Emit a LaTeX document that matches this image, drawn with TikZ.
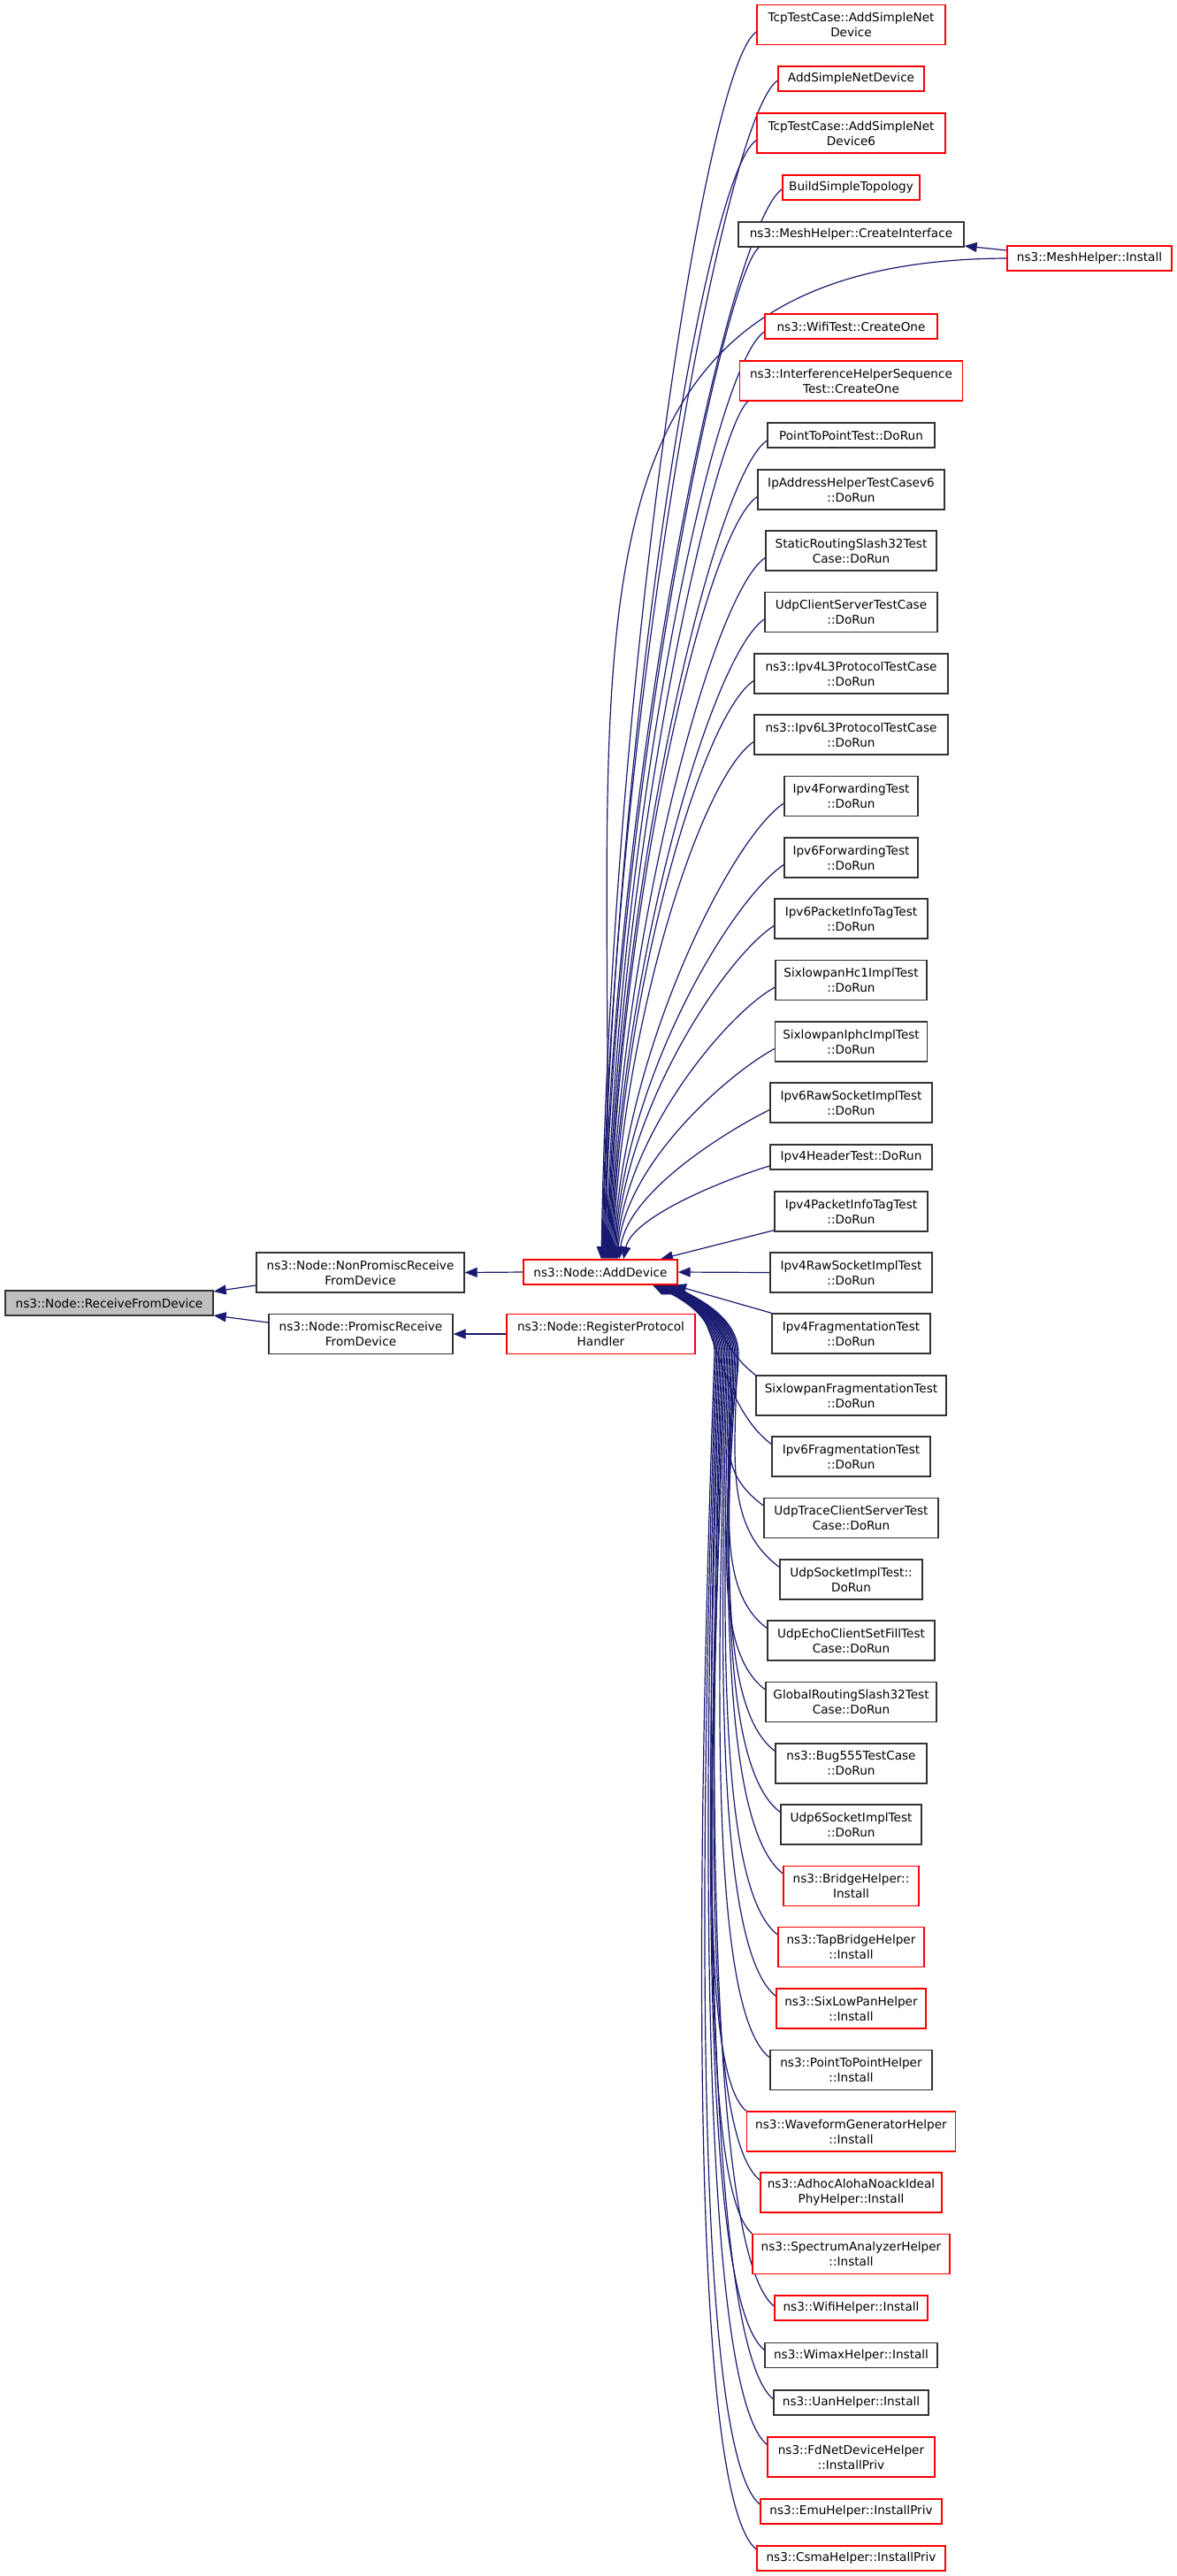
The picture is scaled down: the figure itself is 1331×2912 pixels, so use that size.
\documentclass[tikz,border=0pt]{standalone}
\usepackage{fontspec}
\setmainfont{DejaVu Sans}
\usetikzlibrary{arrows.meta,backgrounds}
\definecolor{edgeblue}{HTML}{191970}
\definecolor{callgray}{HTML}{BFBFBF}

\begin{document}
\begin{tikzpicture}[x=0.5pt, y=-0.5pt,
		box/.style={draw=black!80, fill=white, line width=0.7pt, inner sep=0pt, align=center, font=\fontsize{6.8pt}{8.5pt}\selectfont},
		redbox/.style={box, draw=red},
		one/.style={minimum height=14pt},
		two/.style={minimum height=22.5pt},
		bw/.style={minimum width=#1*0.5pt},
		calls/.style={draw=edgeblue, line width=0.6pt, -{Triangle[length=7pt,width=5.5pt]}}]
		\useasboundingbox (0,0) rectangle (1331,2912);
		
		\node[box, fill=callgray, one, bw=235] (rf) at (123.5,1473) {ns3::Node::ReceiveFromDevice};
		\node[box, two, bw=235] (np) at (407.5,1438.5) {ns3::Node::NonPromiscReceive\\FromDevice};
		\node[box, two, bw=208] (pr) at (408,1508) {ns3::Node::PromiscReceive\\FromDevice};
		\node[redbox, one, bw=174] (ad) at (679,1438) {ns3::Node::AddDevice};
		\node[redbox, two, bw=213] (rh) at (679.5,1508) {ns3::Node::RegisterProtocol\\Handler};
		
		\node[redbox, two, bw=213] (t1) at (962.5,28) {TcpTestCase::AddSimpleNet\\Device};
		\node[redbox, one, bw=165] (t2) at (962.5,89) {AddSimpleNetDevice};
		\node[redbox, two, bw=213] (t3) at (962.5,150.5) {TcpTestCase::AddSimpleNet\\Device6};
		\node[redbox, one, bw=155] (t4) at (962.5,212) {BuildSimpleTopology};
		\node[box, one, bw=255] (ci) at (962.5,265) {ns3::MeshHelper::CreateInterface};
		\node[redbox, one, bw=186] (mi) at (1232,292) {ns3::MeshHelper::Install};
		\node[redbox, one, bw=195] (w1) at (962.5,369) {ns3::WifiTest::CreateOne};
		\node[redbox, two, bw=252] (if) at (962.5,430.5) {ns3::InterferenceHelperSequence\\Test::CreateOne};
		\node[box, one, bw=189] (pp) at (962.5,492) {PointToPointTest::DoRun};
		\node[box, two, bw=211] (ia) at (962.5,553.5) {IpAddressHelperTestCasev6\\::DoRun};
		\node[box, two, bw=193] (sr) at (962.5,622.5) {StaticRoutingSlash32Test\\Case::DoRun};
		\node[box, two, bw=195] (uc) at (962.5,692) {UdpClientServerTestCase\\::DoRun};
		\node[box, two, bw=219] (l4) at (962.5,761.5) {ns3::Ipv4L3ProtocolTestCase\\::DoRun};
		\node[box, two, bw=219] (l6) at (962.5,830.5) {ns3::Ipv6L3ProtocolTestCase\\::DoRun};
		\node[box, two, bw=151] (f4) at (962.5,900) {Ipv4ForwardingTest\\::DoRun};
		\node[box, two, bw=151] (f6) at (962.5,969.5) {Ipv6ForwardingTest\\::DoRun};
		\node[box, two, bw=173] (p6) at (962.5,1038.5) {Ipv6PacketInfoTagTest\\::DoRun};
		\node[box, two, bw=171] (hc) at (962.5,1108) {SixlowpanHc1ImplTest\\::DoRun};
		\node[box, two, bw=172] (ip) at (962.5,1177.5) {SixlowpanIphcImplTest\\::DoRun};
		\node[box, two, bw=183] (r6) at (962.5,1246.5) {Ipv6RawSocketImplTest\\::DoRun};
		\node[box, one, bw=183] (hd) at (962.5,1308) {Ipv4HeaderTest::DoRun};
		\node[box, two, bw=173] (p4) at (962.5,1369.5) {Ipv4PacketInfoTagTest\\::DoRun};
		\node[box, two, bw=183] (r4) at (962.5,1438.5) {Ipv4RawSocketImplTest\\::DoRun};
		\node[box, two, bw=179] (g4) at (962.5,1507.5) {Ipv4FragmentationTest\\::DoRun};
		\node[box, two, bw=215] (sf) at (962.5,1577.5) {SixlowpanFragmentationTest\\::DoRun};
		\node[box, two, bw=179] (g6) at (962.5,1646.5) {Ipv6FragmentationTest\\::DoRun};
		\node[box, two, bw=197] (ut) at (962.5,1716) {UdpTraceClientServerTest\\Case::DoRun};
		\node[box, two, bw=161] (us) at (962.5,1785.5) {UdpSocketImplTest::\\DoRun};
		\node[box, two, bw=189] (ue) at (962.5,1854.5) {UdpEchoClientSetFillTest\\Case::DoRun};
		\node[box, two, bw=193] (gr) at (962.5,1924) {GlobalRoutingSlash32Test\\Case::DoRun};
		\node[box, two, bw=171] (bg) at (962.5,1993.5) {ns3::Bug555TestCase\\::DoRun};
		\node[box, two, bw=159] (u6) at (962.5,2062.5) {Udp6SocketImplTest\\::DoRun};
		\node[redbox, two, bw=153] (bh) at (962.5,2132) {ns3::BridgeHelper::\\Install};
		\node[redbox, two, bw=165] (tb) at (962.5,2201) {ns3::TapBridgeHelper\\::Install};
		\node[redbox, two, bw=169] (sl) at (962.5,2270.5) {ns3::SixLowPanHelper\\::Install};
		\node[box, two, bw=183] (ph) at (962.5,2340) {ns3::PointToPointHelper\\::Install};
		\node[redbox, two, bw=236] (wg) at (962.5,2409.5) {ns3::WaveformGeneratorHelper\\::Install};
		\node[redbox, two, bw=205] (aa) at (962.5,2478.5) {ns3::AdhocAlohaNoackIdeal\\PhyHelper::Install};
		\node[redbox, two, bw=223] (sa) at (962.5,2548) {ns3::SpectrumAnalyzerHelper\\::Install};
		\node[redbox, one, bw=173] (wh) at (962.5,2609) {ns3::WifiHelper::Install};
		\node[box, one, bw=195] (wm) at (962.5,2662.5) {ns3::WimaxHelper::Install};
		\node[box, one, bw=175] (uh) at (962.5,2716) {ns3::UanHelper::Install};
		\node[redbox, two, bw=189] (fd) at (962.5,2777.5) {ns3::FdNetDeviceHelper\\::InstallPriv};
		\node[redbox, one, bw=205] (em) at (962.5,2839) {ns3::EmuHelper::InstallPriv};
		\node[redbox, one, bw=213] (cs) at (962.5,2892) {ns3::CsmaHelper::InstallPriv};
		
		\begin{pgfonlayer}{background}
		\fill[white] (0,0) rectangle (1331,2912);
		
		\draw[calls] (ad.west) -- (np.east);
		\draw[calls] ([yshift=-7.25pt]np.west) -- ([yshift=6.5pt]rf.east);
		\draw[calls] ([yshift=6.5pt]pr.west) -- ([yshift=-7pt]rf.east);
		\draw[calls] (rh.west) -- (pr.east);
		\draw[calls] ([yshift=4.5pt]mi.west) -- ([yshift=-6.5pt]ci.east);
		
		\draw[calls] ([yshift=-4pt]t1.west) .. controls +(-60,40) and +(10,-625) .. ([xshift=0.5pt]ad.north);
		\draw[calls] ([yshift=-1pt]t2.west) .. controls +(-60,40) and +(10,-600) .. ([xshift=1pt]ad.north);
		\draw[calls] ([yshift=-4pt]t3.west) .. controls +(-60,40) and +(10,-570) .. ([xshift=1.5pt]ad.north);
		\draw[calls] ([yshift=-1pt]t4.west) .. controls +(-60,40) and +(10,-545) .. ([xshift=2pt]ad.north);
		\draw[calls] ([xshift=12pt]ci.south west) .. controls +(-40,30) and +(10,-515) .. ([xshift=2.5pt]ad.north);
		\draw[calls] (mi.west) .. controls +(-540,3) and +(15,-674) .. ([xshift=3pt]ad.north);
		\draw[calls] ([yshift=-3pt]w1.west) .. controls +(-60,40) and +(10,-470) .. ([xshift=3.5pt]ad.north);
		\draw[calls] ([xshift=5pt]if.south west) .. controls +(-40,35) and +(10,-437) .. ([xshift=4pt]ad.north);
		\draw[calls] ([yshift=-3pt]pp.west) .. controls +(-60,40) and +(10,-417) .. ([xshift=4.5pt]ad.north);
		\draw[calls] ([yshift=-4pt]ia.west) .. controls +(-60,40) and +(10,-388) .. ([xshift=5pt]ad.north);
		\draw[calls] ([yshift=-4pt]sr.west) .. controls +(-60,40) and +(10,-357) .. ([xshift=5.5pt]ad.north);
		\draw[calls] ([yshift=-4pt]uc.west) .. controls +(-60,40) and +(10,-326) .. ([xshift=6pt]ad.north);
		\draw[calls] ([yshift=-4pt]l4.west) .. controls +(-60,40) and +(10,-295) .. ([xshift=6.5pt]ad.north);
		\draw[calls] ([yshift=-4pt]l6.west) .. controls +(-60,40) and +(10,-263) .. ([xshift=7pt]ad.north);
		\draw[calls] ([yshift=-4pt]f4.west) .. controls +(-60,40) and +(10,-232) .. ([xshift=7.5pt]ad.north);
		\draw[calls] ([yshift=-4pt]f6.west) .. controls +(-60,40) and +(10,-201) .. ([xshift=8pt]ad.north);
		\draw[calls] ([yshift=-4pt]p6.west) .. controls +(-55,35) and +(10,-170) .. ([xshift=8.5pt]ad.north);
		\draw[calls] ([yshift=-4pt]hc.west) .. controls +(-55,30) and +(10,-139) .. ([xshift=9pt]ad.north);
		\draw[calls] ([yshift=-4pt]ip.west) .. controls +(-55,30) and +(10,-107) .. ([xshift=9.5pt]ad.north);
		\draw[calls] ([yshift=-4pt]r6.west) .. controls +(-50,25) and +(10,-76) .. ([xshift=10.5pt]ad.north);
		\draw[calls] ([yshift=-5pt]hd.west) .. controls +(-50,15) and +(10,-48) .. ([xshift=13pt]ad.north);
		\draw[calls] ([yshift=1pt]p4.south west) -- ([xshift=34pt]ad.north);
		\draw[calls] (r4.west) -- (ad.east);
		
		\draw[calls] (g4.north west) -- ([xshift=41.5pt]ad.south);
		\draw[calls] (sf.north west) .. controls +(-40,-30) and +(50,25) .. ([xshift=40.5pt]ad.south);
		\draw[calls] ([yshift=7pt]g6.west) .. controls +(-60,-45) and +(50,25) .. ([xshift=40pt]ad.south);
		\draw[calls] ([yshift=7pt]ut.west) .. controls +(-65,-48) and +(0,77) .. (835,1530) .. controls +(0,-30) and +(52,24) .. ([xshift=39.4pt]ad.south);
		\draw[calls] ([yshift=7pt]us.west) .. controls +(-65,-48) and +(-1,109) .. (833.5,1530) .. controls +(0,-30) and +(52,24) .. ([xshift=38.9pt]ad.south);
		\draw[calls] ([yshift=7pt]ue.west) .. controls +(-65,-48) and +(-2,140) .. (832,1530) .. controls +(0,-30) and +(52,24) .. ([xshift=38.3pt]ad.south);
		\draw[calls] ([yshift=7pt]gr.west) .. controls +(-66,-50) and +(-4,171) .. (830.5,1530) .. controls +(0,-30) and +(52,24) .. ([xshift=37.8pt]ad.south);
		\draw[calls] ([yshift=7pt]bg.west) .. controls +(-66,-50) and +(-5,202) .. (829,1530) .. controls +(0,-30) and +(52,24) .. ([xshift=37.2pt]ad.south);
		\draw[calls] ([yshift=7pt]u6.west) .. controls +(-67,-50) and +(-6,233) .. (827.5,1530) .. controls +(0,-30) and +(52,24) .. ([xshift=36.7pt]ad.south);
		\draw[calls] ([yshift=7pt]bh.west) .. controls +(-67,-52) and +(-7,265) .. (826,1530) .. controls +(0,-30) and +(52,24) .. ([xshift=36.1pt]ad.south);
		\draw[calls] ([yshift=7pt]tb.west) .. controls +(-68,-52) and +(-8,296) .. (824.5,1530) .. controls +(0,-30) and +(52,24) .. ([xshift=35.6pt]ad.south);
		\draw[calls] ([yshift=7pt]sl.west) .. controls +(-68,-54) and +(-10,327) .. (823,1530) .. controls +(0,-30) and +(52,24) .. ([xshift=35pt]ad.south);
		\draw[calls] ([yshift=7pt]ph.west) .. controls +(-69,-54) and +(-11,358) .. (821.5,1530) .. controls +(0,-30) and +(52,24) .. ([xshift=34.5pt]ad.south);
		\draw[calls] (wg.north west) .. controls +(-60,-50) and +(-12,386) .. (820,1530) .. controls +(0,-30) and +(52,24) .. ([xshift=33.9pt]ad.south);
		\draw[calls] ([yshift=7pt]aa.west) .. controls +(-70,-56) and +(-13,421) .. (818.5,1530) .. controls +(0,-30) and +(52,24) .. ([xshift=33.4pt]ad.south);
		\draw[calls] (sa.north west) .. controls +(-62,-52) and +(-14,448) .. (817,1530) .. controls +(0,-30) and +(52,24) .. ([xshift=32.8pt]ad.south);
		\draw[calls] ([yshift=1pt]wh.west) .. controls +(-72,-58) and +(-16,485) .. (815.5,1530) .. controls +(0,-30) and +(52,24) .. ([xshift=32.3pt]ad.south);
		\draw[calls] ([yshift=3pt]wm.west) .. controls +(-72,-58) and +(-17,507) .. (814,1530) .. controls +(0,-30) and +(52,24) .. ([xshift=31.7pt]ad.south);
		\draw[calls] ([yshift=2pt]uh.west) .. controls +(-73,-60) and +(-18,532) .. (812.5,1530) .. controls +(0,-30) and +(52,24) .. ([xshift=31.2pt]ad.south);
		\draw[calls] ([yshift=7pt]fd.west) .. controls +(-73,-60) and +(-19,555) .. (811,1530) .. controls +(0,-30) and +(52,24) .. ([xshift=30.6pt]ad.south);
		\draw[calls] ([yshift=4pt]em.west) .. controls +(-74,-60) and +(-20,585) .. (809.5,1530) .. controls +(0,-30) and +(52,24) .. ([xshift=30.1pt]ad.south);
		\draw[calls] ([yshift=5pt]cs.west) .. controls +(-75,-62) and +(-22,608) .. (808,1530) .. controls +(0,-30) and +(52,24) .. ([xshift=29.5pt]ad.south);
		\end{pgfonlayer}
	\end{tikzpicture}
\end{document}
